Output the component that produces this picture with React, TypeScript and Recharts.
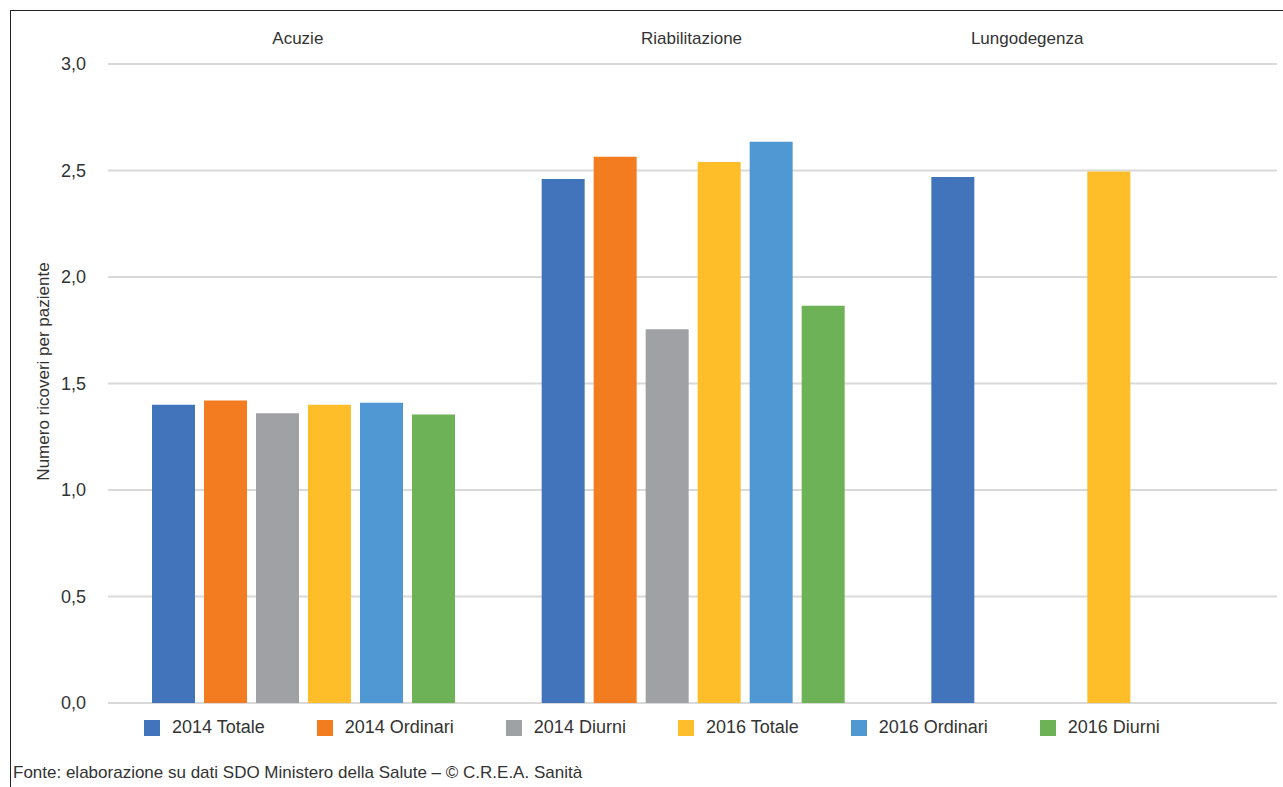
import { Bar, BarChart, CartesianGrid, XAxis, YAxis } from 'recharts'

const categories = ['Acuzie', 'Riabilitazione', 'Lungodegenza']

const totale2014 = [1.4, 2.46, 2.47]
const ordinari2014 = [1.42, 2.565, null]
const diurni2014 = [1.36, 1.755, null]
const totale2016 = [1.4, 2.54, 2.495]
const ordinari2016 = [1.41, 2.635, null]
const diurni2016 = [1.355, 1.865, null]

const yTicks = [0, 0.5, 1, 1.5, 2, 2.5, 3]

const SERIES = [
  { key: 'totale2014', name: '2014 Totale', color: '#4174BA', values: totale2014 },
  { key: 'ordinari2014', name: '2014 Ordinari', color: '#F47C20', values: ordinari2014 },
  { key: 'diurni2014', name: '2014 Diurni', color: '#A0A1A5', values: diurni2014 },
  { key: 'totale2016', name: '2016 Totale', color: '#FDBE2A', values: totale2016 },
  { key: 'ordinari2016', name: '2016 Ordinari', color: '#5098D3', values: ordinari2016 },
  { key: 'diurni2016', name: '2016 Diurni', color: '#6DB256', values: diurni2016 },
]

const FONT = '"Liberation Sans", Arial, sans-serif'
const TEXT = '#333333'

// the last category label sits left of its group in the original
const LABEL_SHIFT = [-5, -1, -55]

function CategoryTick({ x, y, payload, index }: any) {
  return (
    <text
      fill={TEXT}
      fontFamily={FONT}
      fontSize={17}
      textAnchor="middle"
      x={x + (LABEL_SHIFT[index] ?? 0)}
      y={y - 12}
    >
      {payload.value}
    </text>
  )
}

function AxisTitle({ viewBox }: any) {
  const cx = 43
  const cy = viewBox.y + viewBox.height / 2 - 12
  return (
    <text
      fill={TEXT}
      fontFamily={FONT}
      fontSize={17}
      textAnchor="middle"
      dominantBaseline="central"
      transform={`rotate(-90 ${cx} ${cy})`}
      x={cx}
      y={cy}
    >
      Numero ricoveri per paziente
    </text>
  )
}

export default function App() {
  const data = categories.map((category, i) => {
    const row: Record<string, string | number | null> = { category }
    SERIES.forEach((s) => {
      row[s.key] = s.values[i]
    })
    return row
  })

  return (
    <div
      style={{
        position: 'absolute',
        left: 0,
        top: 0,
        width: 1283,
        height: 787,
        overflow: 'hidden',
        background: '#fff',
        fontFamily: FONT,
      }}
    >
      <div
        style={{
          position: 'absolute',
          left: 10,
          top: 10,
          width: 1400,
          height: 900,
          border: '1.5px solid #222',
        }}
      />
      <div style={{ position: 'absolute', left: 0, top: 0 }}>
        <BarChart
          barCategoryGap={44}
          barGap={9}
          data={data}
          height={787}
          margin={{ top: 34, right: 6, bottom: 84, left: 30 }}
          width={1283}
        >
          <CartesianGrid horizontal stroke="#D9D9D9" strokeWidth={2} vertical={false} />
          <XAxis
            axisLine={false}
            dataKey="category"
            height={30}
            orientation="top"
            tick={<CategoryTick />}
            tickLine={false}
            xAxisId={0}
          />
          <YAxis
            axisLine={false}
            domain={[0, 3]}
            label={<AxisTitle />}
            tick={{ fill: TEXT, fontSize: 18, fontFamily: FONT }}
            tickFormatter={(v: number) => v.toFixed(1).replace('.', ',')}
            tickLine={false}
            tickMargin={16}
            ticks={yTicks}
            width={78}
          />
          {SERIES.map((s) => (
            <Bar dataKey={s.key} fill={s.color} isAnimationActive={false} key={s.key} name={s.name} />
          ))}
        </BarChart>
      </div>
      <div
        style={{
          position: 'absolute',
          top: 717,
          left: 144,
          display: 'flex',
          alignItems: 'center',
          fontSize: 18,
          color: TEXT,
          whiteSpace: 'nowrap',
        }}
      >
        {SERIES.map((s) => (
          <div key={s.key} style={{ display: 'flex', alignItems: 'center', marginRight: 52 }}>
            <span style={{ width: 16, height: 16, background: s.color, display: 'inline-block', marginRight: 12 }} />
            <span>{s.name}</span>
          </div>
        ))}
      </div>
      <div
        style={{
          position: 'absolute',
          top: 763,
          left: 13,
          fontSize: 17,
          color: TEXT,
          whiteSpace: 'nowrap',
        }}
      >
        Fonte: elaborazione su dati SDO Ministero della Salute – © C.R.E.A. Sanità
      </div>
    </div>
  )
}
